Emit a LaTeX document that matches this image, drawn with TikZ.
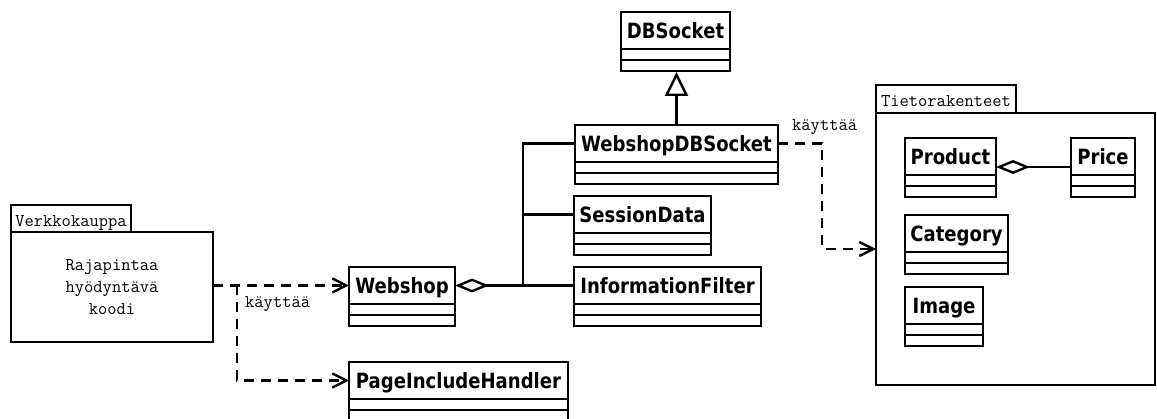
\documentclass[tikz,border=0pt]{standalone}
\usepackage{fontspec}
\newfontfamily\clsfont{DejaVu Sans}[FakeStretch=0.86]
\usetikzlibrary{arrows.meta}
\tikzset{
  uml/.style={line width=2.4pt},
  clsname/.style={draw, uml, rectangle, anchor=north west, outer sep=0pt,
    minimum height=37pt, inner sep=0pt, text height=15.3pt, text depth=0pt,
    font=\clsfont\bfseries\fontsize{21}{24}\selectfont},
  pkgtab/.style={draw, uml, rectangle, anchor=north west, outer sep=0pt,
    inner sep=0pt, text height=16pt, text depth=0pt,
    font=\ttfamily\fontsize{18}{20}\selectfont},
  pkgbody/.style={draw, uml, rectangle, anchor=north west, outer sep=0pt,
    inner sep=0pt, align=center, font=\ttfamily\fontsize{18}{22}\selectfont},
  deplabel/.style={inner sep=0pt, font=\ttfamily\fontsize{18}{20}\selectfont},
  dep/.style={uml, dash pattern=on 10pt off 7pt,
    -{Straight Barb[length=14pt,width=14pt]}},
  agg/.style={uml, {Diamond[open,length=34pt,width=14pt]}-},
  gen/.style={uml, -{Triangle[open,length=24pt,width=23pt]}},
}
% class box: node name, left, top, width, class name
\newcommand\umlclass[5]{%
  \node[clsname, minimum width=#4pt] (#1) at (#2,#3) {#5};
  \draw[uml] (#1.south west) rectangle ++(#4,22);
  \draw[uml] (#1.south west) ++(0,11) -- ++(#4,0);
}
\begin{document}
\begin{tikzpicture}[x=1pt, y=-1pt]
\useasboundingbox (0,0) rectangle (1157,419);

% packages
\node[pkgtab, minimum width=120pt, minimum height=27pt] (vktab) at (11,205) {Verkkokauppa};
\node[pkgbody, minimum width=202pt, minimum height=110pt] (vkbody) at (11,232)
  {Rajapintaa\\hyödyntävä\\koodi};
\node[pkgtab, minimum width=140pt, minimum height=28pt] (ttab) at (876,85) {Tietorakenteet};
\node[pkgbody, minimum width=279pt, minimum height=272pt] (tbody) at (876,113) {};

% classes
\umlclass{dbs}{621}{12}{109}{DBSocket}
\umlclass{wdbs}{575}{125}{203}{WebshopDBSocket}
\umlclass{sess}{574}{196}{137}{SessionData}
\umlclass{infof}{574}{267}{187}{InformationFilter}
\umlclass{webshop}{349}{267}{106}{Webshop}
\umlclass{pih}{349}{362}{219}{PageIncludeHandler}
\umlclass{product}{905}{138}{91}{Product}
\umlclass{price}{1071}{138}{64}{Price}
\umlclass{category}{905}{215}{103}{Category}
\umlclass{image}{905}{287}{78}{Image}

% inheritance: the tip meets the bottom of the DBSocket box
\coordinate (dbsbottom) at ([yshift=-23pt]dbs.south);
\draw[gen] (wdbs.north) -- (wdbs.north |- dbsbottom);

% aggregation of Webshop
\coordinate (bus) at ([xshift=68pt]webshop.east);
\draw[agg] (webshop.east) -- (infof.west);
\draw[uml] (bus) |- (wdbs.west);
\draw[uml] (bus |- sess.west) -- (sess.west);

% aggregation of Product
\draw[agg] ([yshift=-10.5pt]product.east) -- ([yshift=-10.5pt]product.east -| price.west);

% dependencies
\coordinate (vkout) at (vkbody.east |- webshop.west);
\coordinate (split) at ([xshift=24pt]vkout);
\draw[dep] (vkout) -- (webshop.west);
\draw[dep] (split) |- (pih.west);
\node[deplabel, anchor=west] (lbl1) at ([xshift=8pt,yshift=-19pt]split) {käyttää};

\coordinate (bend) at ([xshift=44pt]wdbs.east);
\draw[dep] (wdbs.east) -- (bend) |- (tbody.west);
\node[deplabel, anchor=west] (lbl2) at ([xshift=14pt,yshift=16.5pt]wdbs.east) {käyttää};
\end{tikzpicture}
\end{document}
